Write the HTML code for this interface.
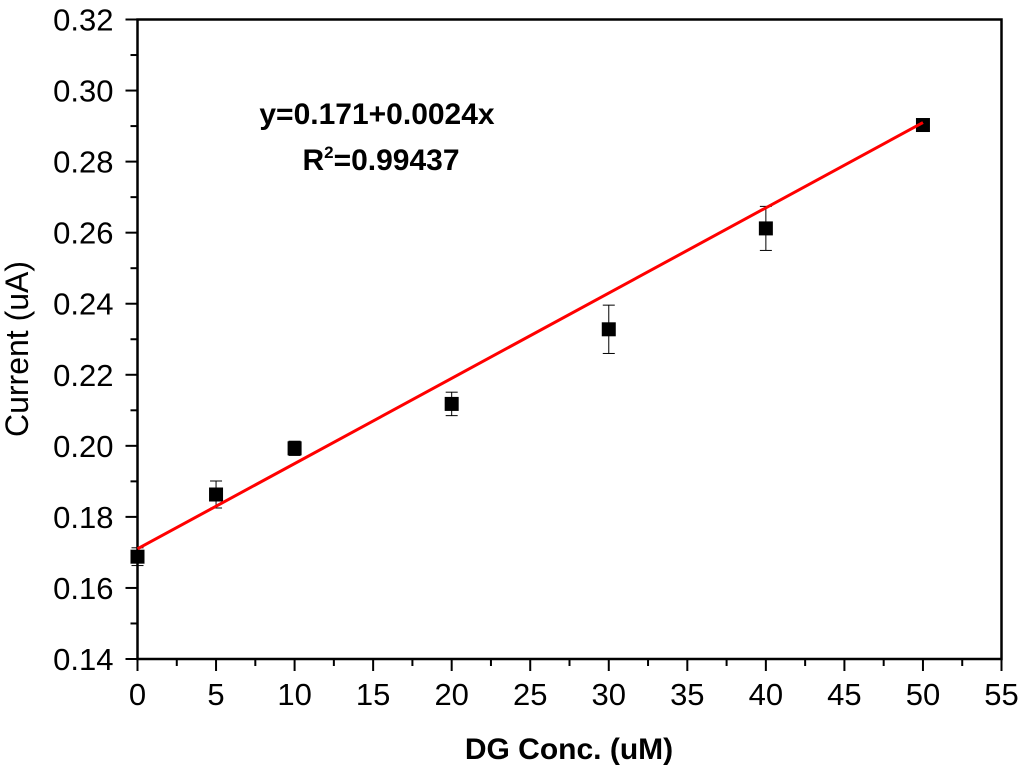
<!DOCTYPE html>
<html><head><meta charset="utf-8"><style>body{margin:0;background:#fff}svg{display:block;font-family:"Liberation Sans",Arial,sans-serif}</style></head>
<body>
<svg id="chart" width="1024" height="773"></svg>
<script>
const xValues=[0,5,10,20,30,40,50];
const yValues=[0.1688,0.1863,0.1993,0.2118,0.2328,0.2612,0.2903];
const yErrors=[0.0025,0.0038,0.0020,0.0033,0.0068,0.0062,0.0008];
const xTicks=[0,5,10,15,20,25,30,35,40,45,50,55];
const yTicks=[0.14,0.16,0.18,0.20,0.22,0.24,0.26,0.28,0.30,0.32];
const fitIntercept=0.171, fitSlope=0.0024;
const L=137.5,R=1001.5,T=19.5,B=659;
const sx=v=>L+(v-0)/55*(R-L);
const sy=v=>B-(v-0.14)/0.18*(B-T);
const svg=document.getElementById('chart');const NS='http://www.w3.org/2000/svg';
function mk(t,a,p){const e=document.createElementNS(NS,t);for(const k in a)e.setAttribute(k,a[k]);(p||svg).appendChild(e);return e;}
let e=mk('rect',{x:L,y:T,width:R-L,height:B-T,fill:'none',stroke:'#000','stroke-width':2.5});


xTicks.forEach((t,i)=>{const x=sx(t);
 let l=mk('line',{x1:x,x2:x,y1:B,y2:B+12,stroke:'#000','stroke-width':2});
 
 
 if(i<xTicks.length-1){const m=sx(t+2.5);let ml=mk('line',{x1:m,x2:m,y1:B,y2:B+7,stroke:'#000','stroke-width':2});
 
 }
 let tx=mk('text',{x:x,y:B+46,'text-anchor':'middle','font-size':31,fill:'#000'});tx.textContent=t;
 
 
});
yTicks.forEach((t,i)=>{const y=sy(t);
 let l=mk('line',{x1:L-12,x2:L,y1:y,y2:y,stroke:'#000','stroke-width':2});
 
 
 if(i<yTicks.length-1){const m=sy(t+0.01);let ml=mk('line',{x1:L-7,x2:L,y1:m,y2:m,stroke:'#000','stroke-width':2});
 
 }
 let tx=mk('text',{x:L-24,y:y+11,'text-anchor':'end','font-size':31,fill:'#000'});tx.textContent=t.toFixed(2);
 
 
});
let xt=mk('text',{x:569,y:759,'text-anchor':'middle','font-size':30,'font-weight':'bold'});xt.textContent='DG Conc. (uM)';


let yt=mk('text',{x:0,y:0,'text-anchor':'middle','font-size':32,transform:'translate(28,349) rotate(-90)'});yt.textContent='Current (uA)';


xValues.forEach((x,i)=>{const cx=sx(x),cy=sy(yValues[i]),e1=sy(yValues[i]+yErrors[i]),e2=sy(yValues[i]-yErrors[i]);
 const g=mk('g',{});
 
 
 mk('line',{x1:cx,x2:cx,y1:e1,y2:e2,stroke:'#000','stroke-width':1},g);
 mk('line',{x1:cx-6,x2:cx+6,y1:e1,y2:e1,stroke:'#000','stroke-width':1},g);
 mk('line',{x1:cx-6,x2:cx+6,y1:e2,y2:e2,stroke:'#000','stroke-width':1},g);
 mk('rect',{x:cx-7,y:cy-7,width:14,height:14,fill:'#000'},g);
});
let fl=mk('line',{x1:sx(0),y1:sy(fitIntercept),x2:sx(50),y2:sy(fitIntercept+fitSlope*50),stroke:'#f00','stroke-width':3});


let eq=mk('text',{x:377,y:124,'text-anchor':'middle','font-size':30,'font-weight':'bold'});eq.textContent='y=0.171+0.0024x';


let r2=mk('text',{x:381,y:170,'text-anchor':'middle','font-size':30,'font-weight':'bold'});
r2.innerHTML='R<tspan font-size="17" dy="-12">2</tspan><tspan dy="12">=0.99437</tspan>';


</script>
</body></html>
